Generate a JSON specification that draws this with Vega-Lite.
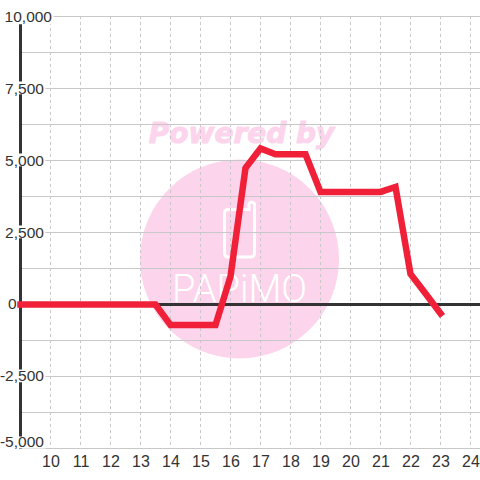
{
"$schema":"https://vega.github.io/schema/vega-lite/v6.json",
"width":460,"height":433,
"autosize":"none",
"padding":{"left":20,"top":16,"right":0,"bottom":31},
"background":"#ffffff",
"config":{"view":{"stroke":null}},
"encoding":{
 "x":{"field":"h","type":"quantitative","scale":{"domain":[8.983,24.317],"nice":false,"zero":false},
   "axis":{"orient":"bottom","values":[10,11,12,13,14,15,16,17,18,19,20,21,22,23,24],"format":"d","grid":false,"domain":false,"ticks":false,"title":null,"labelFont":"Liberation Sans","labelFontSize":16,"labelColor":"#333333","labelPadding":4,"labelFlush":false,"labelOverlap":false,"labelBound":false,"zindex":1}},
 "y":{"field":"v","type":"quantitative","scale":{"domain":[-5017.4,10017.4],"nice":false,"zero":false},"axis":null}
},
"datasets":{
"series":[{"h":9,"v":0},{"h":10,"v":0},{"h":11,"v":0},{"h":12,"v":0},{"h":13,"v":0},{"h":13.5,"v":0},{"h":14,"v":-710},{"h":14.5,"v":-710},{"h":15,"v":-710},{"h":15.5,"v":-710},{"h":16,"v":970},{"h":16.5,"v":4740},{"h":17,"v":5420},{"h":17.5,"v":5215},{"h":18,"v":5215},{"h":18.5,"v":5215},{"h":19,"v":3910},{"h":19.5,"v":3910},{"h":20,"v":3910},{"h":20.5,"v":3910},{"h":21,"v":3910},{"h":21.5,"v":4080},{"h":22,"v":1060},{"h":22.5,"v":380},{"h":23,"v":-310}],
"hgrid":[{"v":10000},{"v":8750},{"v":7500},{"v":6250},{"v":5000},{"v":3750},{"v":2500},{"v":1250},{"v":-1250},{"v":-2500},{"v":-3750},{"v":-5000}],
"vgrid":[{"h":10},{"h":11},{"h":12},{"h":13},{"h":14},{"h":15},{"h":16},{"h":17},{"h":18},{"h":19},{"h":20},{"h":21},{"h":22},{"h":23},{"h":24}],
"masks":[{"a":8.7,"b":10.1,"lo":9730,"hi":10170},{"a":8.7,"b":9.83,"lo":7300,"hi":7740},{"a":8.7,"b":9.83,"lo":4800,"hi":5240},{"a":8.7,"b":9.83,"lo":2300,"hi":2740},{"a":8.7,"b":9.83,"lo":-2700,"hi":-2260},{"a":8.7,"b":9.83,"lo":-5000,"hi":-4580}],
"ylabels":[{"h":10.05,"v":10000,"t":"10,000"},{"h":9.78,"v":7500,"t":"7,500"},{"h":9.78,"v":5000,"t":"5,000"},{"h":9.78,"v":2500,"t":"2,500"},{"h":8.867,"v":0,"t":"0"},{"h":9.78,"v":-2500,"t":"-2,500"},{"h":9.78,"v":-4790,"t":"-5,000"}]
},
"layer":[
{"data":{"values":[{"h":16.3,"v":1580}]},"mark":{"type":"point","shape":"circle","filled":true,"size":39601,"color":"#fcd5ec","opacity":1}},
{"data":{"values":[{"h":16.3,"v":2625}]},"mark":{"type":"point","filled":false,"stroke":"#ffffff","strokeWidth":3,"opacity":1,"size":4,"shape":"M-15,-16 Q-15,-19.5 -11,-19.5 L9.5,-19.5 L9.5,-25 Q12,-29 15,-25 L15,24 Q15,28 11,28 L-11,28 Q-15,28 -15,24 Z"}},
{"data":{"values":[{"h":16.3,"v":486,"t":"PAPiMO"}]},"mark":{"type":"text","font":"Roboto","fontWeight":300,"fontSize":38,"color":"#ffffff","baseline":"middle","align":"center"},"encoding":{"text":{"field":"t"}}},
{"data":{"values":[{"h":16.37,"v":5900,"t":"Powered by"}]},"mark":{"type":"text","font":"DejaVu Sans","fontWeight":"bold","fontStyle":"italic","fontSize":28,"color":"#fcd5ec","stroke":"#fcd5ec","strokeWidth":1,"baseline":"middle","align":"center"},"encoding":{"text":{"field":"t"}}},
{"data":{"name":"hgrid"},"mark":{"type":"rule","color":"#c8c8c8","strokeWidth":1},"encoding":{"x":{"value":0},"x2":{"value":460}}},
{"data":{"name":"vgrid"},"mark":{"type":"rule","color":"#c8c8c8","strokeWidth":1,"strokeDash":[3,3]},"encoding":{"y":{"value":0},"y2":{"value":433}}},
{"data":{"values":[{"h":9}]},"mark":{"type":"rule","color":"#333333","strokeWidth":3},"encoding":{"y":{"value":0},"y2":{"value":433}}},
{"data":{"values":[{"v":0}]},"mark":{"type":"rule","color":"#333333","strokeWidth":3},"encoding":{"x":{"value":0},"x2":{"value":460}}},
{"data":{"name":"masks"},"mark":{"type":"rect","color":"#ffffff","opacity":1},"encoding":{"x":{"field":"a","type":"quantitative"},"x2":{"field":"b"},"y":{"field":"lo","type":"quantitative"},"y2":{"field":"hi"}}},
{"data":{"name":"ylabels"},"mark":{"type":"text","font":"Liberation Sans","fontSize":15.5,"color":"#333333","align":"right","baseline":"middle"},"encoding":{"text":{"field":"t"}}},
{"data":{"name":"series"},"mark":{"type":"line","color":"#f02038","strokeWidth":6.5,"strokeJoin":"miter","strokeCap":"square","clip":false}}
]
}
